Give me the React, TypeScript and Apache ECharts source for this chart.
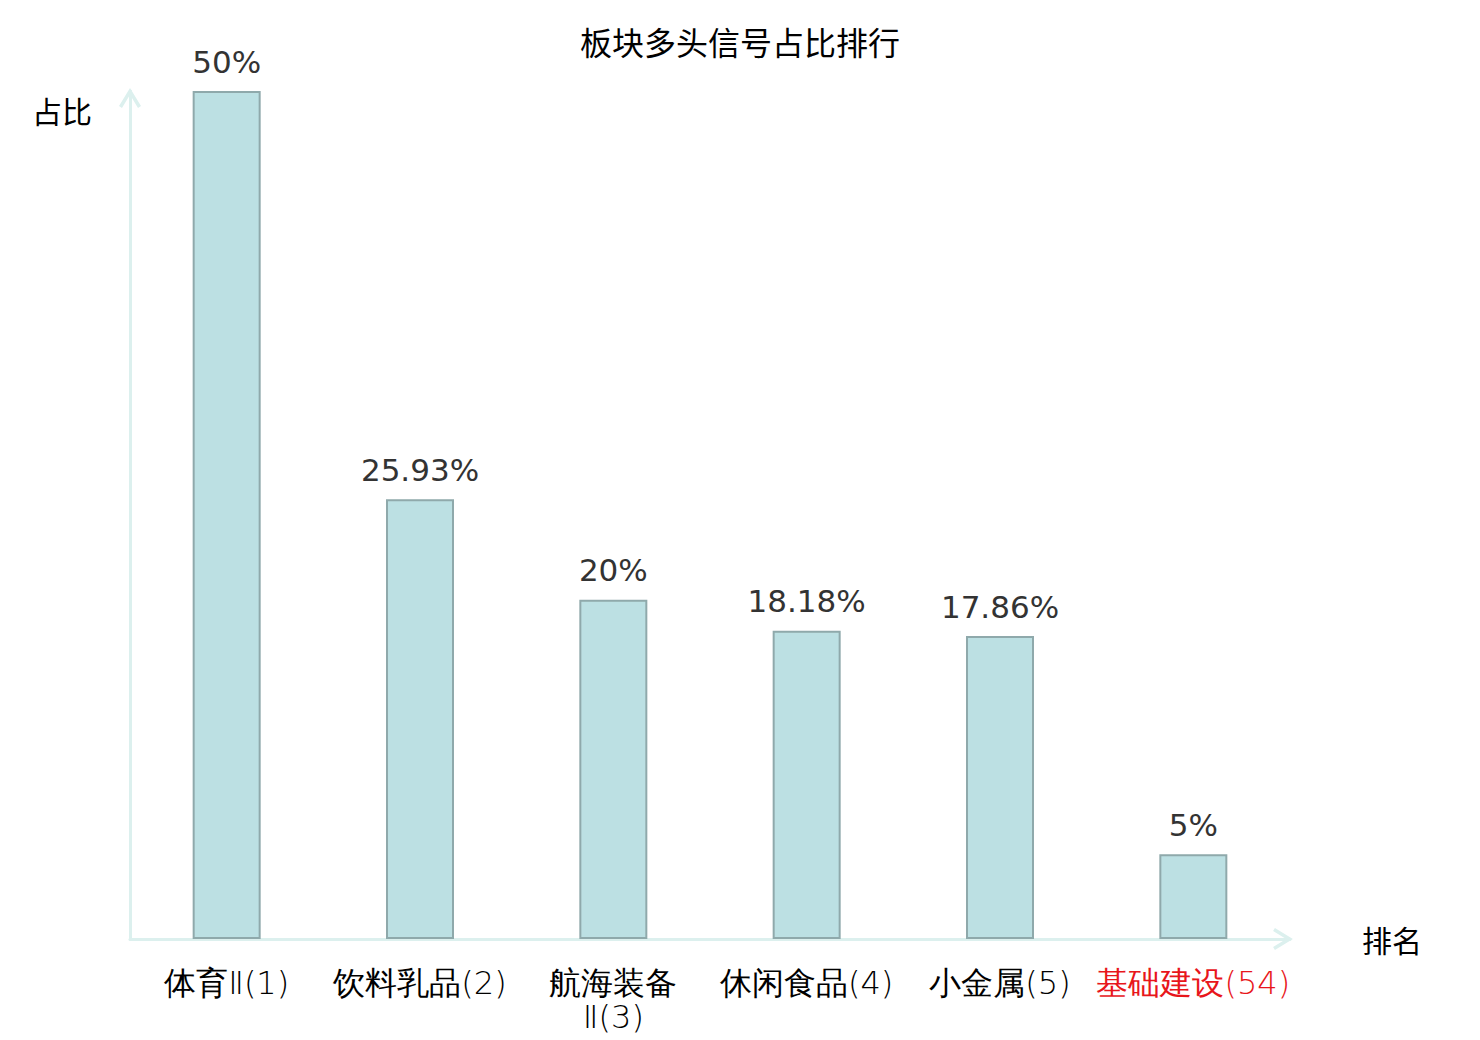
import React, { useEffect, useRef } from "react";
import * as echarts from "echarts";

const titleText = "板块多头信号占比排行";
const sectorNames = ["体育Ⅱ", "饮料乳品", "航海装备Ⅱ", "休闲食品", "小金属", "基础建设"];
const sectorRanks = [1, 2, 3, 4, 5, 54];
const ratioValues = [50, 25.93, 20, 18.18, 17.86, 5];
const highlightRank = 54;

const arrowPath =
  "path://M0,18 L11,0 L22,18 L19.01,19.82 L11,6.72 L2.99,19.82 Z";

export default function App() {
  const ref = useRef<HTMLDivElement>(null);

  useEffect(() => {
    document.body.style.margin = "0";
    if (!ref.current) return;
    const chart = echarts.init(ref.current, null, { renderer: "svg" });

    const categories = sectorNames.map((n, i) => `${n}(${sectorRanks[i]})`);

    const option = {
      animation: false,
      backgroundColor: "#ffffff",
      title: {
        text: titleText,
        left: "center",
        top: 25,
        padding: 0,
        textStyle: {
          fontSize: 32,
          fontWeight: "normal",
          color: "#000",
          fontFamily: "Noto Sans CJK SC",
        },
      },
      grid: {
        left: 130,
        right: 190,
        top: 91,
        bottom: 101,
        containLabel: false,
      },
      xAxis: {
        type: "category",
        data: categories,
        name: "排名",
        nameLocation: "end",
        nameGap: 72,
        nameTextStyle: {
          fontSize: 30,
          color: "#000",
          verticalAlign: "middle",
          fontFamily: "Noto Sans CJK SC",
        },
        axisTick: { show: false },
        axisLine: {
          show: true,
          symbol: ["none", arrowPath],
          symbolSize: [22, 20],
          symbolOffset: [0, -7],
          lineStyle: { color: "#dcf0ee", width: 3 },
        },
        axisLabel: {
          interval: 0,
          margin: 27,
          fontSize: 32,
          fontWeight: 200,
          lineHeight: 34,
          color: "#000",
          fontFamily: "DejaVu Sans",
          formatter: (value: string, idx: number) => {
            const name = sectorNames[idx];
            const rank = sectorRanks[idx];
            let text = `${name}(${rank})`;
            if (name.length >= 5 && name.endsWith("Ⅱ")) {
              text = `${name.slice(0, -1)}\nⅡ(${rank})`;
            }
            if (rank === highlightRank) {
              return `{r|${text}}`;
            }
            return text;
          },
          rich: {
            r: {
              color: "#e8161b",
              fontSize: 32,
              fontWeight: 200,
              lineHeight: 34,
              fontFamily: "DejaVu Sans",
            },
          },
        },
      },
      yAxis: {
        type: "value",
        min: 0,
        max: 50,
        name: "占比",
        nameLocation: "end",
        nameGap: -19,
        nameTextStyle: {
          fontSize: 30,
          color: "#000",
          align: "right",
          verticalAlign: "middle",
          padding: [0, 38, 0, 0],
          fontFamily: "Noto Sans CJK SC",
        },
        splitLine: { show: false },
        axisTick: { show: false },
        axisLabel: { show: false },
        axisLine: {
          show: true,
          symbol: ["none", arrowPath],
          symbolSize: [22, 20],
          symbolOffset: [0, -7],
          lineStyle: { color: "#dcf0ee", width: 3 },
        },
      },
      series: [
        {
          type: "bar",
          data: ratioValues,
          barWidth: 68,
          itemStyle: {
            color: "#bce0e3",
            borderColor: "#8fa9ab",
            borderWidth: 2,
          },
          label: {
            show: true,
            position: "top",
            distance: 14,
            fontSize: 31,
            color: "#333",
            fontFamily: "DejaVu Sans",
            formatter: (p: any) => `${p.value}%`,
          },
        },
      ],
    };

    chart.setOption(option as any);
    return () => chart.dispose();
  }, []);

  return <div ref={ref} style={{ width: 1480, height: 1040 }} />;
}
